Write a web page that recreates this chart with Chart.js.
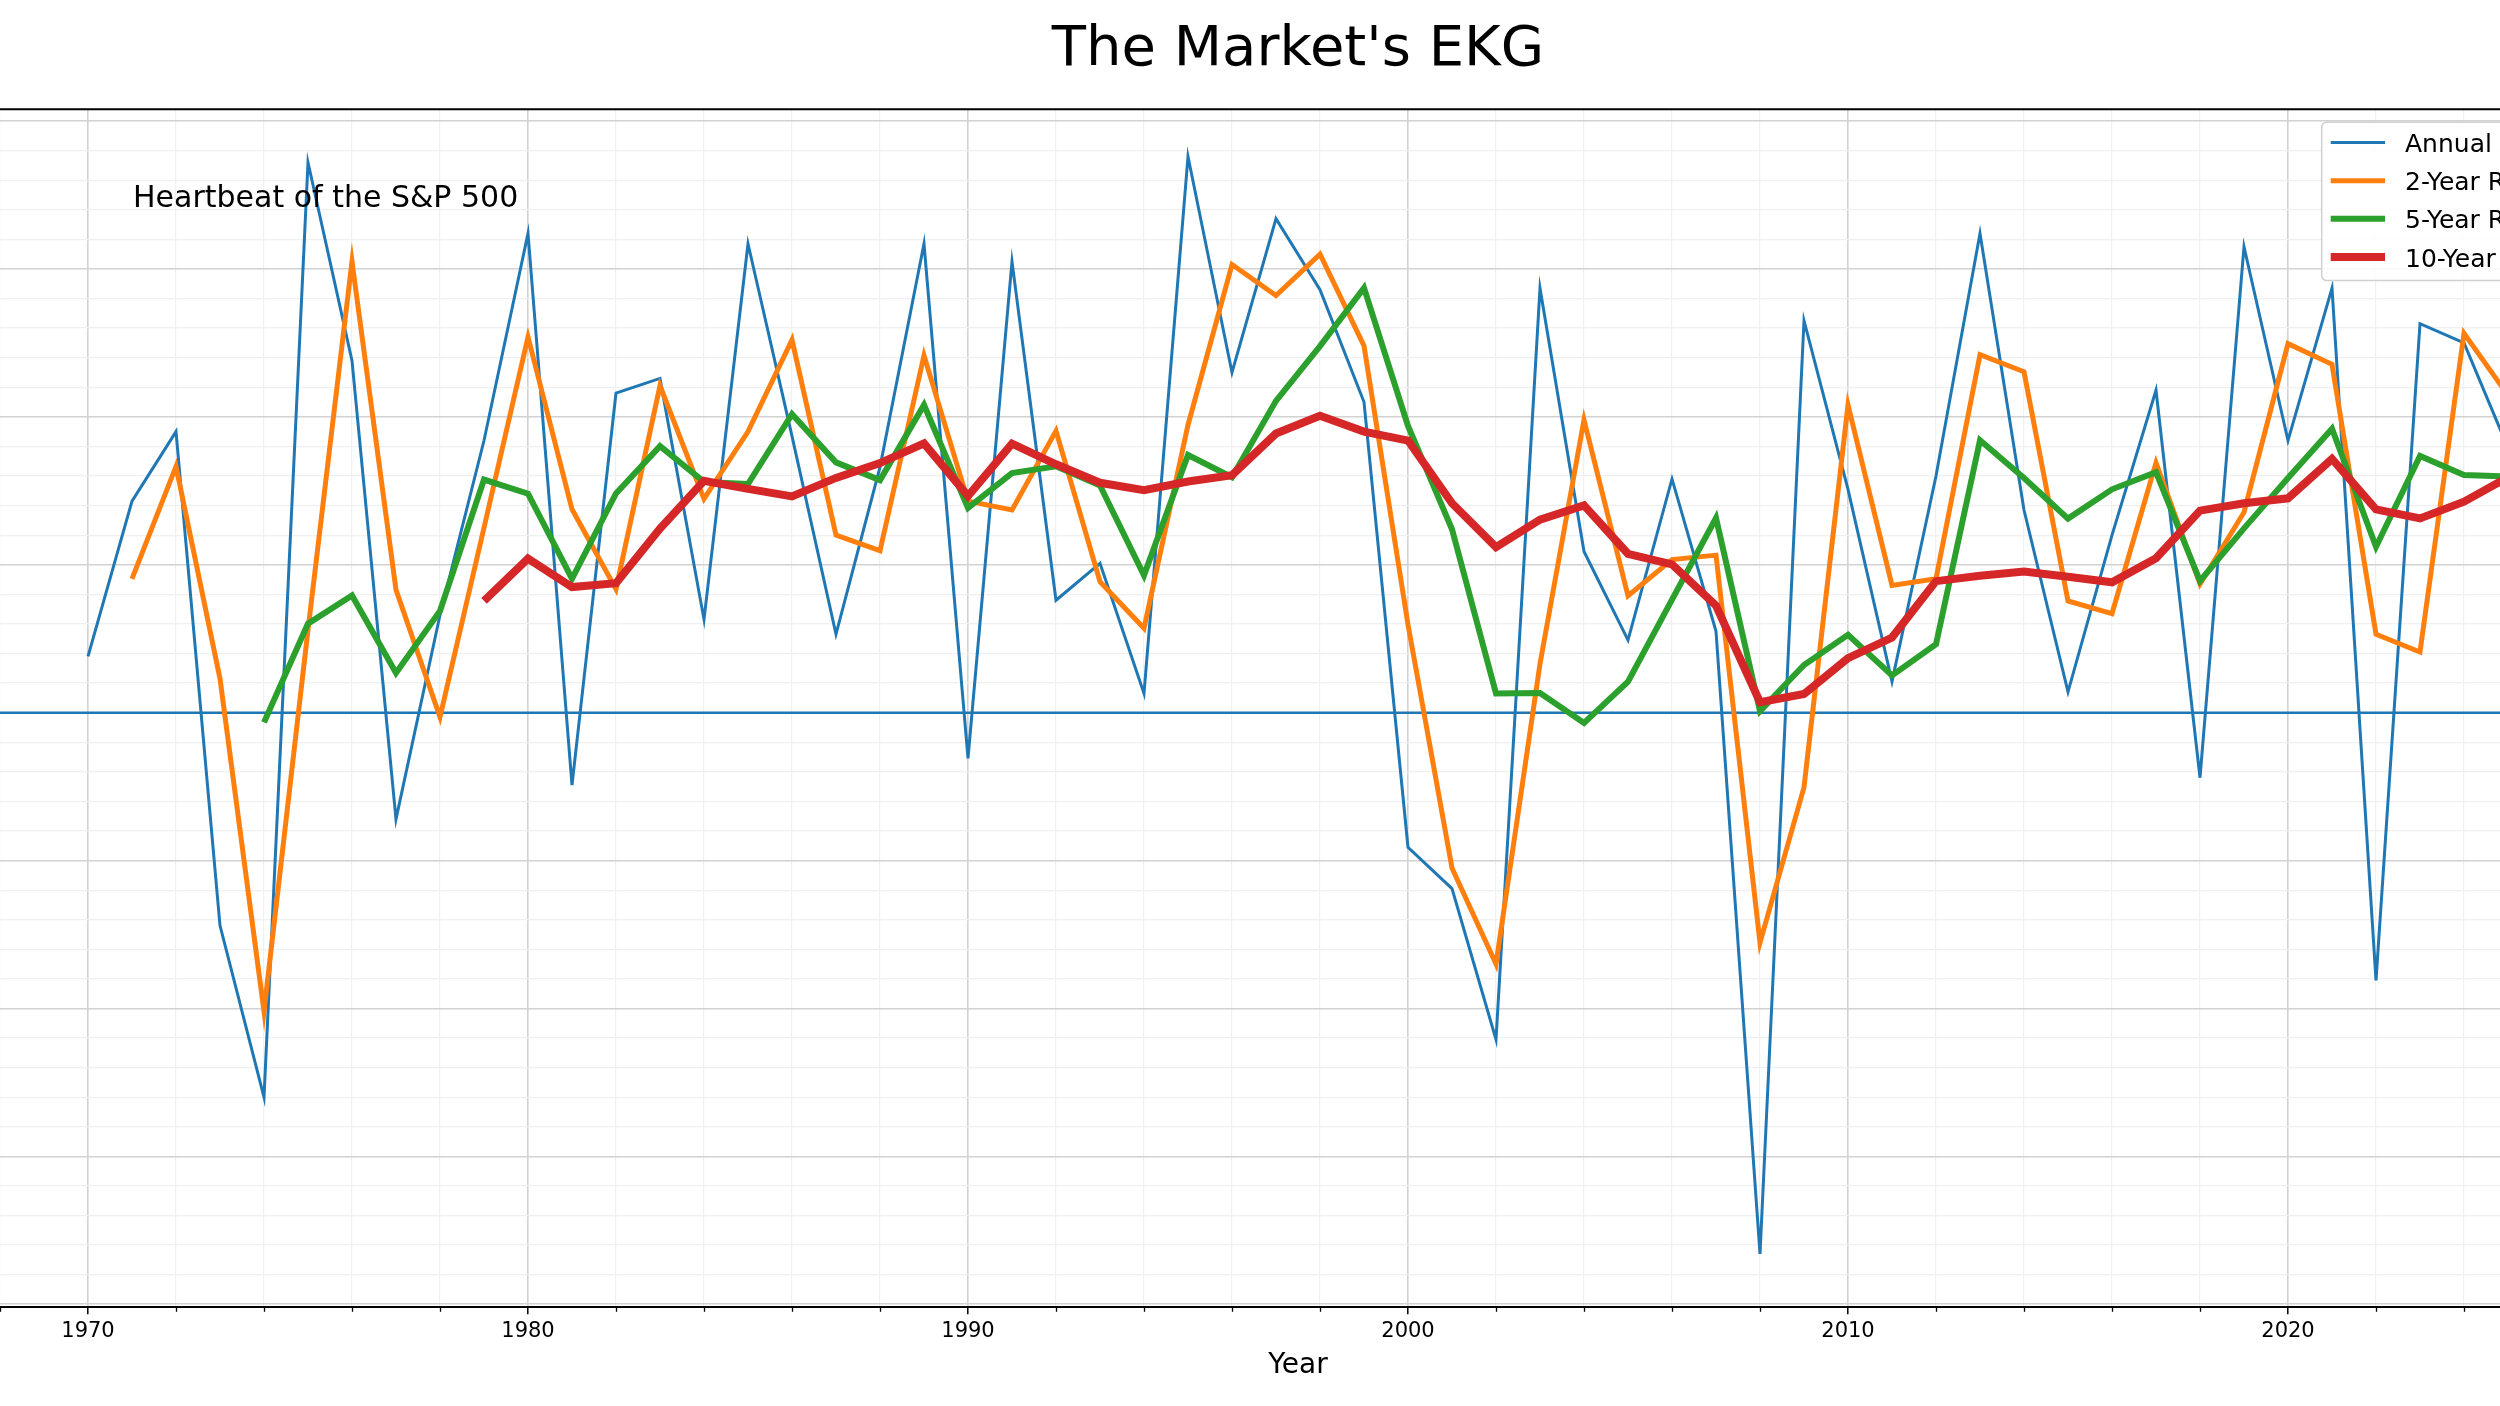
<!DOCTYPE html>
<html>
<head>
<meta charset="utf-8">
<title>The Market's EKG</title>
<script src="https://cdn.jsdelivr.net/npm/chart.js@4.4.1/dist/chart.umd.min.js"></script>
<style>
  html, body { margin: 0; padding: 0; background: #fff; overflow: hidden; }
  body { width: 2500px; height: 1406px; position: relative; }
  /* the figure is wider than the window: axes run past both edges */
  #wrap { position: absolute; left: -33px; top: 0; width: 2662px; height: 1406px; }
</style>
</head>
<body>
<div id="wrap"><canvas id="ekg"></canvas></div>
<script>
var years = [1970, 1971, 1972, 1973, 1974, 1975, 1976, 1977, 1978, 1979,
  1980, 1981, 1982, 1983, 1984, 1985, 1986, 1987, 1988, 1989,
  1990, 1991, 1992, 1993, 1994, 1995, 1996, 1997, 1998, 1999,
  2000, 2001, 2002, 2003, 2004, 2005, 2006, 2007, 2008, 2009,
  2010, 2011, 2012, 2013, 2014, 2015, 2016, 2017, 2018, 2019,
  2020, 2021, 2022, 2023, 2024, 2025];

// annual total return, %
var annualReturn = [3.8, 14.3, 19.0, -14.4, -26.0, 37.2, 23.8, -7.2, 6.6, 18.4,
  32.4, -4.9, 21.6, 22.6, 6.3, 31.7, 18.7, 5.3, 16.6, 31.7,
  -3.1, 30.5, 7.6, 10.1, 1.3, 37.6, 23.0, 33.4, 28.6, 21.0,
  -9.1, -11.9, -22.1, 28.7, 10.9, 4.9, 15.8, 5.5, -36.6, 26.5,
  15.1, 2.1, 16.0, 32.4, 13.7, 1.4, 12.0, 21.8, -4.4, 31.5,
  18.4, 28.7, -18.1, 26.3, 25.0, 17.9];

var rolling2 = [null, 9.05, 16.65, 2.3, -20.2, 5.6, 30.5, 8.3, -0.3, 12.5,
  25.4, 13.75, 8.35, 22.1, 14.45, 19.0, 25.2, 12.0, 10.95, 24.15,
  14.3, 13.7, 19.05, 8.85, 5.7, 19.45, 30.3, 28.2, 31.0, 24.8,
  5.95, -10.5, -17.0, 3.3, 19.8, 7.9, 10.35, 10.65, -15.55, -5.05,
  20.8, 8.6, 9.05, 24.2, 23.05, 7.55, 6.7, 16.9, 8.7, 13.55,
  24.95, 23.55, 5.3, 4.1, 25.65, 21.45];

var rolling5 = [null, null, null, null, -0.66, 6.02, 7.92, 2.68, 6.88, 15.76,
  14.8, 9.06, 14.82, 18.02, 15.6, 15.46, 20.18, 16.92, 15.72, 20.8,
  13.84, 16.2, 16.66, 15.36, 9.28, 17.42, 15.92, 21.08, 24.78, 28.72,
  19.38, 12.4, 1.3, 1.32, -0.7, 2.1, 7.64, 13.16, 0.1, 3.22,
  5.26, 2.52, 4.62, 18.42, 15.86, 13.12, 15.1, 16.26, 8.9, 12.46,
  15.86, 19.2, 11.22, 17.36, 16.06, 15.96];

var rolling10 = [null, null, null, null, null, null, null, null, null, 7.55,
  10.41, 8.49, 8.75, 12.45, 15.68, 15.13, 14.62, 15.87, 16.87, 18.2,
  14.65, 18.19, 16.79, 15.54, 15.04, 15.63, 16.06, 18.87, 20.07, 19.0,
  18.4, 14.16, 11.19, 13.05, 14.01, 10.74, 10.02, 7.23, 0.71, 1.26,
  3.68, 5.08, 8.89, 9.26, 9.54, 9.19, 8.81, 10.44, 13.66, 14.16,
  14.49, 17.15, 13.74, 13.13, 14.26, 15.91];

var seriesNames = ['Annual Return', '2-Year Rolling Avg', '5-Year Rolling Avg', '10-Year Rolling Avg'];
var seriesColors = ['#1f77b4', '#ff7f0e', '#2ca02c', '#d62728'];
var seriesWidths = [3, 5, 6, 8];

var FONT = 'DejaVu Sans';

function pts(arr) {
  return years.map(function (yr, i) { return { x: yr, y: arr[i] }; });
}

function isMajor(v) {
  return Math.abs(v % 10) < 1e-6;
}
function gridColor(c) {
  if (!c.tick) return 'rgba(0,0,0,0)';
  return isMajor(c.tick.value) ? '#d2d2d2' : '#f0f0f0';
}
function gridWidth(c) {
  if (!c.tick) return 1;
  return isMajor(c.tick.value) ? 1.6 : 1.2;
}
function tickColor(c) {
  // minor ticks are drawn shorter by the plugin below
  return c.tick && isMajor(c.tick.value) ? '#000' : 'rgba(0,0,0,0)';
}

// top spine, zero line, minor ticks, caption and the framed legend
var extras = {
  id: 'extras',
  beforeDatasetsDraw: function (chart) {
    var ctx = chart.ctx, a = chart.chartArea;
    var y0 = chart.scales.y.getPixelForValue(0);
    ctx.save();
    ctx.strokeStyle = '#1f77b4';
    ctx.lineWidth = 2.5;
    ctx.beginPath();
    ctx.moveTo(a.left, y0);
    ctx.lineTo(a.right, y0);
    ctx.stroke();
    ctx.restore();
  },
  afterDraw: function (chart) {
    var ctx = chart.ctx, a = chart.chartArea, sx = chart.scales.x;
    ctx.save();
    ctx.strokeStyle = '#000';
    ctx.lineWidth = 2;
    ctx.beginPath();
    ctx.moveTo(a.left, a.top);
    ctx.lineTo(a.right, a.top);
    ctx.stroke();

    ctx.lineWidth = 1.3;
    ctx.beginPath();
    sx.ticks.forEach(function (t) {
      if (isMajor(t.value)) return;
      var px = Math.round(sx.getPixelForValue(t.value)) + 0.5;
      ctx.moveTo(px, a.bottom);
      ctx.lineTo(px, a.bottom + 4.5);
    });
    ctx.stroke();

    ctx.fillStyle = '#000';
    ctx.font = '30px "' + FONT + '"';
    ctx.textBaseline = 'alphabetic';
    ctx.textAlign = 'left';
    ctx.fillText('Heartbeat of the S&P 500', a.left + 166, a.top + 97.5);

    // legend
    var bx = a.right - 307.3, by = a.top + 13, bw = 297, bh = 158.4;
    ctx.fillStyle = 'rgba(255,255,255,0.85)';
    ctx.strokeStyle = '#d0d0d0';
    ctx.lineWidth = 1.5;
    ctx.beginPath();
    ctx.roundRect(bx, by, bw, bh, 5);
    ctx.fill();
    ctx.stroke();
    ctx.font = '25px "' + FONT + '"';
    chart.data.datasets.forEach(function (ds, i) {
      var cy = by + 20.4 + i * 38.1;
      ctx.strokeStyle = ds.borderColor;
      ctx.lineWidth = ds.borderWidth;
      ctx.beginPath();
      ctx.moveTo(bx + 9, cy);
      ctx.lineTo(bx + 63.3, cy);
      ctx.stroke();
      ctx.fillStyle = '#000';
      ctx.fillText(ds.label, bx + 83.3, cy + 9.6);
    });
    ctx.restore();
  }
};

var datasets = [annualReturn, rolling2, rolling5, rolling10].map(function (arr, i) {
  return {
    label: seriesNames[i],
    data: pts(arr),
    borderColor: seriesColors[i],
    backgroundColor: seriesColors[i],
    borderWidth: seriesWidths[i],
    pointRadius: 0,
    tension: 0,
    fill: false,
    order: 4 - i
  };
});

new Chart(document.getElementById('ekg'), {
  type: 'line',
  data: { datasets: datasets },
  options: {
    responsive: true,
    maintainAspectRatio: false,
    animation: false,
    layout: { padding: 0 },
    plugins: {
      legend: { display: false },
      tooltip: { enabled: false },
      title: {
        display: true,
        text: "The Market's EKG",
        color: '#000',
        font: { family: FONT, size: 56, weight: 'normal', lineHeight: 1.2 },
        padding: { top: 17, bottom: 25 }
      }
    },
    scales: {
      x: {
        type: 'linear',
        min: 1967.25,
        max: 2027.75,
        ticks: {
          stepSize: 2,
          includeBounds: false,
          autoSkip: false,
          maxRotation: 0,
          color: '#000',
          padding: 5,
          font: { family: FONT, size: 21 },
          callback: function (v) { return isMajor(v) ? String(Math.round(v)) : ''; }
        },
        grid: { color: gridColor, lineWidth: gridWidth, tickLength: 7, tickColor: tickColor, tickWidth: 1.5 },
        border: { display: true, color: '#000', width: 2 },
        title: {
          display: true,
          text: 'Year',
          color: '#000',
          font: { family: FONT, size: 28 },
          padding: { top: 0, bottom: 23 }
        }
      },
      y: {
        min: -40.2,
        max: 40.8,
        ticks: { display: false, stepSize: 2, includeBounds: false },
        grid: { color: gridColor, lineWidth: gridWidth, drawTicks: false },
        border: { display: false }
      }
    }
  },
  plugins: [extras]
});
</script>
</body>
</html>
